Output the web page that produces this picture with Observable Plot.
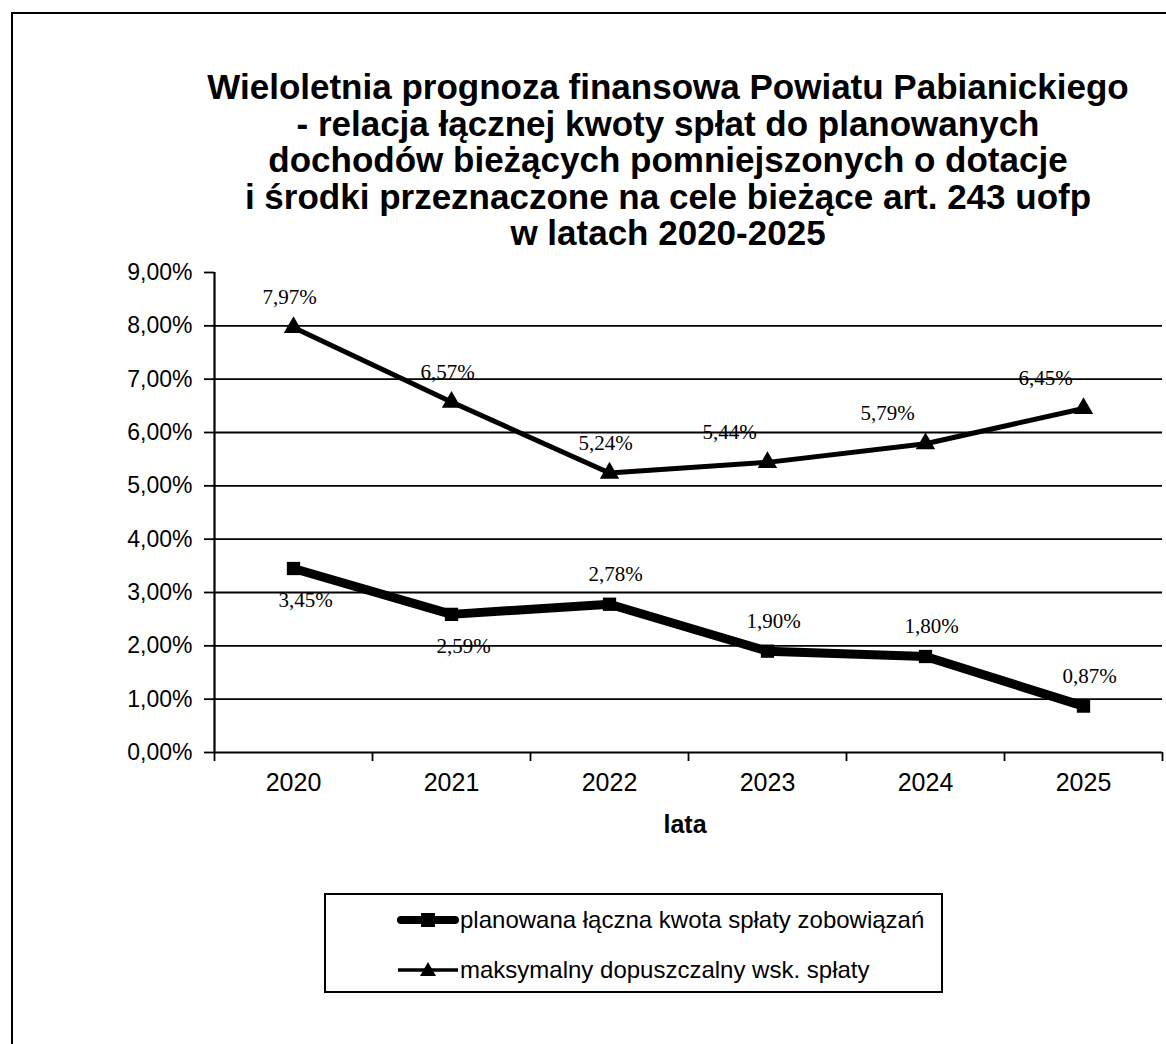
<!DOCTYPE html>
<html>
<head>
<meta charset="utf-8">
<script src="https://cdn.jsdelivr.net/npm/d3@7"></script>
<script src="https://cdn.jsdelivr.net/npm/@observablehq/plot@0.6"></script>
<style>
  body { margin: 0; background: #fff; font-family: "Liberation Sans", Arial, sans-serif; color: #000; }
  #wrap { position: relative; width: 1166px; height: 1044px; overflow: hidden; background: #fff; }
  #frame { position: absolute; left: 11px; top: 12px; right: -10px; bottom: -10px; border-top: 2px solid #000; border-left: 2px solid #000; }
  #chart { position: absolute; left: 0; top: 0; }
  #title { position: absolute; left: 168px; width: 1000px; top: 69px; text-align: center; font-weight: bold; font-size: 35px; line-height: 36.5px; }
  #xlabel { position: absolute; left: 585px; width: 200px; top: 810px; text-align: center; font-weight: bold; font-size: 25px; }
  #legend { position: absolute; left: 324px; top: 893px; width: 619px; height: 100px; border: 2px solid #000; box-sizing: border-box; }
  .lrow { position: absolute; left: 71px; height: 30px; display: flex; align-items: center; font-size: 24px; white-space: nowrap; }
  .lrow svg { display: block; margin-right: 1px; }
</style>
</head>
<body>
<div id="wrap">
  <div id="frame"></div>
  <div id="chart"></div>
  <div id="title"></div>
  <div id="xlabel"></div>
  <div id="legend"></div>
</div>
<script>
// ---- data ----
const years = [2020, 2021, 2022, 2023, 2024, 2025];
const planned = [3.45, 2.59, 2.78, 1.90, 1.80, 0.87];      // planowana łączna kwota spłaty zobowiązań (%)
const maxAllowed = [7.97, 6.57, 5.24, 5.44, 5.79, 6.45];   // maksymalny dopuszczalny wsk. spłaty (%)
const yTicks = [0, 1, 2, 3, 4, 5, 6, 7, 8, 9];
const seriesNames = ["planowana łączna kwota spłaty zobowiązań", "maksymalny dopuszczalny wsk. spłaty"];
const titleLines = [
  "Wieloletnia prognoza finansowa Powiatu Pabianickiego",
  "- relacja łącznej kwoty spłat do planowanych",
  "dochodów bieżących pomniejszonych o dotacje",
  "i środki przeznaczone na cele bieżące art. 243 uofp",
  "w latach 2020-2025"
];
const xTitle = "lata";
// label placement keywords (as set in the original chart)
const plannedLabelSide = ["below", "below", "above", "above", "above", "above"];
const maxLabelSide = ["above", "above", "above", "above-left", "above-left", "above-left"];

// ---- helpers ----
const fmt = v => v.toFixed(2).replace(".", ",") + "%";
const placement = {
  "above": {dx: 6, dy: -30},
  "above-left": {dx: -38, dy: -30},
  "below": {dx: 12, dy: 32}
};
const rowsPlanned = years.map((year, i) => ({year, value: planned[i], side: plannedLabelSide[i]}));
const rowsMax = years.map((year, i) => ({year, value: maxAllowed[i], side: maxLabelSide[i]}));
const xDomain = [years[0] - 0.5, years[years.length - 1] + 0.5];
const boundaries = d3.range(years.length + 1).map(i => xDomain[0] + i);
const yDomain = [yTicks[0], yTicks[yTicks.length - 1]];
const serif = "'Liberation Serif', 'Times New Roman', serif";

function labels(rows, side, dxAdj = 0) {
  const p = placement[side];
  return Plot.text(rows.filter(d => d.side === side), {
    x: "year", y: "value", text: d => fmt(d.value),
    dx: p.dx + dxAdj, dy: p.dy, fontFamily: serif, fontSize: 21, fill: "#000"
  });
}

document.getElementById("title").innerHTML = titleLines.join("<br>");
document.getElementById("xlabel").textContent = xTitle;

const chart = Plot.plot({
  width: 1166,
  height: 800,
  marginTop: 272,
  marginBottom: 48,
  marginLeft: 214,
  marginRight: 4,
  style: {fontFamily: "'Liberation Sans', Arial, sans-serif", fontSize: "23px", color: "#000", background: "transparent", overflow: "visible"},
  x: {domain: xDomain},
  y: {domain: yDomain},
  marks: [
    Plot.ruleY(yTicks.filter(t => t > yDomain[0] && t < yDomain[1]), {stroke: "#000", strokeWidth: 1.8}),
    Plot.ruleY([yDomain[0]], {stroke: "#000", strokeWidth: 2.2}),
    Plot.ruleX([xDomain[0]], {y1: yDomain[0], y2: yDomain[1], stroke: "#000", strokeWidth: 2.2}),
    Plot.axisY({ticks: yTicks, tickFormat: fmt, tickSize: 10, tickPadding: 12, fontSize: 23, label: null, strokeWidth: 1.8}),
    Plot.axisX({ticks: boundaries, tickSize: 9, tickFormat: () => "", label: null, strokeWidth: 1.8}),
    Plot.axisX({ticks: years, tickSize: 0, tickPadding: 21, tickFormat: d => String(d), fontSize: 25, label: null}),
    Plot.line(rowsMax, {x: "year", y: "value", stroke: "#000", strokeWidth: 5}),
    Plot.dot(rowsMax, {x: "year", y: "value", symbol: "triangle", r: 7.2, fill: "#000", stroke: "none"}),
    Plot.line(rowsPlanned, {x: "year", y: "value", stroke: "#000", strokeWidth: 9}),
    Plot.dot(rowsPlanned, {x: "year", y: "value", symbol: "square", r: 7.5, fill: "#000", stroke: "none"}),
    labels(rowsMax, "above", -10),
    labels(rowsMax, "above-left"),
    labels(rowsPlanned, "above"),
    labels(rowsPlanned, "below")
  ]
});
document.getElementById("chart").appendChild(chart);

// ---- legend ----
const legend = document.getElementById("legend");
const swatches = [
  `<svg width="62" height="20"><line x1="4" y1="10" x2="58" y2="10" stroke="#000" stroke-width="8" stroke-linecap="round"/><rect x="24" y="3" width="14" height="14" fill="#000"/></svg>`,
  `<svg width="62" height="20"><line x1="1" y1="10" x2="61" y2="10" stroke="#000" stroke-width="3.5"/><path d="M31,2 L39,16 L23,16 Z" fill="#000"/></svg>`
];
seriesNames.forEach((name, i) => {
  const row = document.createElement("div");
  row.className = "lrow";
  row.style.top = (i === 0 ? 10 : 60) + "px";
  row.innerHTML = swatches[i] + `<span>${name}</span>`;
  legend.appendChild(row);
});
</script>
</body>
</html>
